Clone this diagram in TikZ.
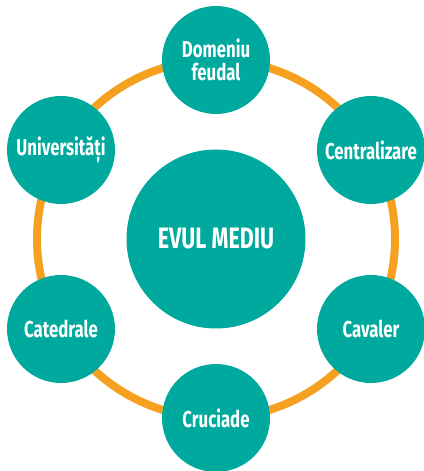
\documentclass[tikz,border=0pt]{standalone}
\usepackage{fontspec}
\setmainfont{Fira Sans}[FakeStretch=0.73]
\usepackage{xcolor}
\definecolor{colTeal}{RGB}{0,169,157}
\definecolor{colRing}{RGB}{246,160,32}
\usepackage{tikz}
\usetikzlibrary{positioning}
\tikzset{
	topic/.style={circle, fill=colTeal, inner sep=0pt, minimum size=108pt, align=center, text=white, font=\bfseries\fontsize{23}{23}\selectfont},
	core/.style={circle, fill=colTeal, inner sep=0pt, minimum size=179pt, align=center, text=white, font=\bfseries\fontsize{29.5}{31}\selectfont},
	ring/.style={draw=colRing, line width=8pt},
}

\begin{document}
\begin{tikzpicture}[x=1pt, y=1pt]
	\useasboundingbox (0,0) rectangle (423,471);

	% Orange ring behind the circles
	\coordinate (mid) at (216,232);
	\draw[ring] (mid) circle[radius=179pt];

	% Center
	\node[core] (evul) at (mid) {EVUL MEDIU};

	% Topics around the ring
	\node[topic] (domeniu) at (216,411) {Domeniu\\feudal};
	\node[topic] (central) at (371,321) {Centralizare};
	\node[topic] (cavaler) at (371,142) {Cavaler};
	\node[topic] (cruciade) at (216,53) {Cruciade};
	\node[topic] (catedrale) at (61,142) {Catedrale};
	\node[topic] (univ) at (61,321) {Universități};
\end{tikzpicture}
\end{document}
